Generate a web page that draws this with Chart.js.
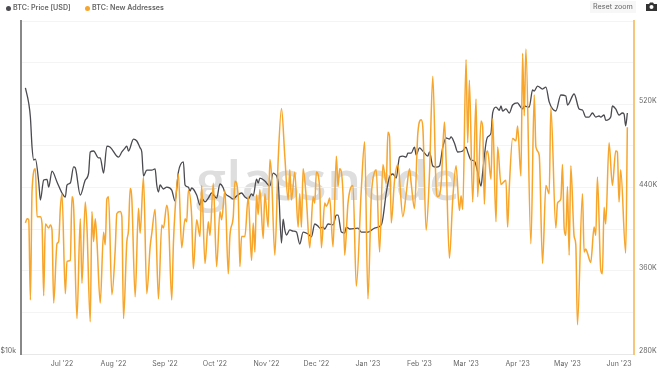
<!DOCTYPE html>
<html>
<head>
<meta charset="utf-8">
<script src="https://cdn.jsdelivr.net/npm/chart.js@4"></script>
<style>
    body { margin: 0; background: #fff; }
    #box { position: relative; width: 660px; height: 372px; overflow: hidden; font-family: Inter, sans-serif; }
    #marca { position: absolute; left: 196px; top: 142px; font: 600 54px "Open Sans", sans-serif; color: #dedede; letter-spacing: 0.4px; }
    canvas { position: absolute; left: 0; top: 0; }
    #legenda { position: absolute; left: 5px; top: 3px; height: 10px; line-height: 10px; font-size: 7.1px; font-weight: 600; color: #666; white-space: nowrap; }
    #legenda span { position: absolute; top: 0; }
    #legenda i { position: absolute; top: 2.5px; width: 5px; height: 5px; border-radius: 50%; }
    #reset { position: absolute; left: 590px; top: 1px; width: 46px; height: 12px; line-height: 12px; background: #f7f7f7; color: #666; font-size: 7.2px; text-align: center; }
    #camera { position: absolute; left: 646px; top: 2px; }
</style>
</head>
<body>
<div id="box">
    <div id="marca">glassnode</div>
    <canvas id="grafico" width="660" height="372"></canvas>
    <div id="legenda"></div>
    <div id="reset">Reset zoom</div>
    <svg id="camera" width="11" height="9" viewBox="0 0 11 9">
        <path d="M0 2 H3 L4 0.5 H7 L8 2 H11 V9 H0 Z" fill="#333"/>
        <circle cx="5.5" cy="5" r="2" fill="#fff"/>
    </svg>
</div>
<script>
// =======================
// DADOS (dias contados a partir de 1 Jul 2022)
// =======================

const mesDias = [0, 31, 62, 92, 123, 153, 184, 215, 243, 274, 304, 335];
const mesLabels = ["Jul '22", "Aug '22", "Sep '22", "Oct '22", "Nov '22", "Dec '22",
    "Jan '23", "Feb '23", "Mar '23", "Apr '23", "May '23", "Jun '23"];

const precoDias = [-22, -20, -19, -18, -17, -16, -14, -13, -11, -9, -8, -6, -3, 0, 2, 3, 5, 7, 8, 11,
    14, 16, 17, 19, 22, 23, 25, 27, 29, 34, 36, 38, 39, 40, 43, 45, 47, 48, 49, 51,
    54, 56, 57, 58, 59, 61, 63, 66, 68, 70, 73, 74, 76, 77, 78, 81, 83, 84, 86, 88,
    90, 93, 95, 97, 98, 101, 103, 105, 108, 110, 112, 114, 115, 117, 118, 119, 122, 125, 127, 128,
    130, 132, 133, 134, 135, 137, 139, 141, 143, 145, 148, 150, 152, 154, 155, 157, 158, 160, 163, 165,
    166, 168, 170, 171, 173, 178, 180, 184, 188, 192, 193, 195, 197, 199, 201, 203, 205, 207, 208, 210,
    212, 213, 215, 217, 220, 221, 223, 225, 227, 229, 231, 233, 234, 236, 238, 241, 243, 244, 246, 248,
    250, 252, 253, 255, 256, 258, 259, 261, 263, 264, 265, 267, 269, 271, 274, 275, 277, 278, 281, 283,
    284, 286, 289, 291, 293, 295, 297, 300, 303, 304, 308, 311, 313, 315, 317, 319, 321, 323, 324, 326,
    327, 330, 331, 333, 335, 337, 338, 339, 340];
const precoUSD = [31170, 29200, 27500, 24200, 22910, 23000, 20860, 19310, 21030, 21100, 20400, 21840, 20860, 19900, 19560, 20590, 20760, 22240, 22150, 19730,
    21030, 21670, 23710, 23810, 23120, 23120, 21670, 24310, 24200, 23200, 23710, 24130, 24310, 23810, 25060, 24850, 24130, 23710, 21400, 21950,
    21950, 22060, 20590, 19980, 20590, 20240, 20400, 20150, 19220, 21760, 22720, 20590, 20400, 20070, 20330, 19730, 18900, 19470, 19150, 19470,
    19900, 19470, 20680, 20330, 19900, 19560, 19390, 19650, 19900, 19560, 19390, 19820, 19650, 21120, 20760, 21210, 20940, 20500, 21670, 21580,
    20860, 16070, 17800, 16990, 16630, 16990, 16910, 16840, 16000, 16840, 16700, 16490, 17430, 17270, 17130, 17200, 17060, 17430, 17360, 18110,
    18110, 16840, 16770, 17200, 17060, 17130, 16840, 16840, 17130, 17360, 17880, 19900, 21310, 21580, 21210, 23200, 23300, 23200, 23600, 23600,
    24200, 23410, 24130, 23810, 23290, 23710, 22330, 22230, 22330, 24200, 25170, 25060, 25290, 24640, 23710, 23810, 24200, 23710, 22910, 22810,
    21760, 20500, 21760, 24640, 25290, 25700, 28010, 28730, 28340, 28860, 28250, 28500, 28010, 28980, 29240, 28980, 28500, 28860, 28730, 30900,
    30770, 31430, 31030, 31290, 29370, 28500, 28250, 30250, 30120, 28980, 30380, 28500, 28370, 27530, 27530, 28010, 27530, 27650, 27530, 27770,
    27130, 27530, 28860, 28500, 27770, 28010, 27890, 26510, 28010];

const enderecoDias = [-22, -21, -20, -19, -18, -16, -15, -13, -12, -11, -10, -8, -7, -6, -5, -3, -2, -1, 0, 2,
    3, 5, 6, 7, 9, 11, 12, 14, 15, 17, 18, 19, 20, 21, 23, 25, 26, 27, 28, 30,
    32, 33, 35, 36, 37, 39, 40, 41, 42, 44, 46, 47, 49, 51, 53, 54, 56, 58, 60, 61,
    63, 64, 66, 67, 68, 70, 72, 74, 75, 76, 78, 79, 81, 83, 84, 86, 88, 89, 91, 93,
    95, 96, 98, 100, 101, 103, 104, 106, 107, 108, 110, 112, 114, 115, 116, 117, 118, 119, 121, 122,
    124, 125, 126, 128, 130, 132, 134, 136, 137, 138, 140, 142, 143, 144, 145, 147, 149, 151, 152, 153,
    155, 156, 158, 159, 160, 161, 163, 165, 166, 167, 169, 170, 172, 175, 177, 180, 182, 184, 186, 188,
    189, 191, 193, 195, 196, 197, 198, 200, 202, 205, 207, 209, 210, 212, 214, 216, 217, 219, 221, 223,
    225, 226, 228, 230, 231, 233, 235, 237, 239, 240, 241, 243, 244, 245, 247, 249, 250, 252, 253, 254,
    255, 256, 258, 259, 261, 262, 264, 267, 268, 269, 271, 273, 274, 276, 277, 278, 279, 282, 284, 285,
    287, 289, 291, 293, 294, 297, 298, 300, 301, 302, 303, 304, 305, 306, 308, 309, 310, 313, 314, 315,
    316, 318, 320, 321, 322, 324, 325, 326, 327, 329, 331, 333, 334, 335, 336, 339, 340];
const enderecoK = [406, 410, 409, 332, 437, 458, 412, 412, 405, 336, 405, 401, 404, 399, 329, 386, 388, 420, 434, 338,
    369, 370, 431, 421, 314, 410, 348, 426, 402, 311, 417, 388, 410, 389, 329, 397, 385, 429, 431, 337,
    380, 415, 417, 412, 314, 388, 399, 439, 429, 335, 420, 396, 450, 338, 383, 396, 419, 333, 404, 401,
    423, 412, 332, 386, 418, 453, 382, 410, 407, 437, 412, 362, 409, 393, 442, 367, 407, 394, 444, 364,
    417, 409, 437, 357, 394, 412, 446, 431, 364, 393, 393, 431, 370, 406, 378, 433, 414, 438, 391, 434,
    402, 467, 452, 375, 466, 516, 470, 428, 457, 428, 455, 402, 434, 402, 458, 428, 382, 431, 425, 455,
    438, 382, 425, 422, 425, 430, 383, 470, 441, 458, 434, 375, 425, 442, 345, 438, 484, 333, 431, 455,
    457, 378, 462, 444, 493, 489, 406, 447, 462, 412, 434, 458, 444, 420, 492, 505, 498, 399, 453, 547,
    440, 431, 443, 503, 466, 372, 429, 461, 418, 432, 419, 563, 483, 543, 426, 525, 431, 504, 498, 424,
    471, 475, 448, 506, 407, 479, 443, 447, 402, 440, 487, 485, 499, 451, 569, 509, 573, 386, 529, 479,
    471, 367, 442, 434, 517, 401, 425, 429, 462, 401, 394, 441, 375, 461, 393, 385, 308, 434, 378, 381,
    377, 368, 402, 394, 450, 361, 357, 421, 405, 483, 442, 475, 474, 426, 457, 377, 498];

// =======================
// GRÁFICO
// =======================

const ctx =
    document.getElementById("grafico");

const fonte = { family: "Inter", size: 7 };

const grafico = new Chart(ctx, {
    type: "line",

    data: {
        datasets: [{
            label: "BTC: Price [USD]",
            data: precoDias.map((d, i) => ({ x: d, y: precoUSD[i] })),
            yAxisID: "y",
            borderColor: "#4a4a4f",
            borderWidth: 1.3,
            pointRadius: 0,
            cubicInterpolationMode: "monotone",
            order: 2
        }, {
            label: "BTC: New Addresses",
            data: enderecoDias.map((d, i) => ({ x: d, y: enderecoK[i] })),
            yAxisID: "y1",
            borderColor: "#f7a52b",
            borderWidth: 1.5,
            pointRadius: 0,
            cubicInterpolationMode: "monotone",
            order: 1
        }]
    },

    options: {
        responsive: false,
        animation: false,
        layout: { padding: { top: 21 } },

        plugins: {
            tooltip: { enabled: false },
            legend: { display: false }
        },

        scales: {
            x: {
                type: "linear",
                min: -24.65,
                max: 344,
                afterFit(a) { a.height = 18; },
                afterBuildTicks(a) { a.ticks = mesDias.map(v => ({ value: v })); },
                grid: { display: false, drawTicks: false },
                border: { color: "#e8e8e8", width: 1 },
                ticks: {
                    autoSkip: false,
                    maxRotation: 0,
                    padding: 6,
                    color: "#666",
                    font: fonte,
                    callback: v => mesLabels[mesDias.indexOf(v)]
                }
            },
            y: {
                type: "logarithmic",
                position: "left",
                min: 10000,
                max: 41500,
                afterFit(a) { a.width = 21; },
                afterBuildTicks(a) { a.ticks = [{ value: 10000 }]; },
                grid: { display: false, drawTicks: false },
                border: { color: "#888", width: 2 },
                ticks: {
                    padding: 5,
                    labelOffset: -3,
                    color: "#666",
                    font: fonte,
                    callback: v => "$" + v / 1000 + "k"
                }
            },
            y1: {
                type: "linear",
                position: "right",
                min: 280,
                max: 600,
                afterFit(a) { a.width = 26; },
                grid: { color: "#f4f4f4", drawTicks: false },
                border: { color: "#f7c67a", width: 2 },
                ticks: {
                    stepSize: 40,
                    autoSkip: false,
                    padding: 5,
                    labelOffset: -3,
                    color: "#666",
                    font: fonte,
                    callback: v => (v < 600 && (v - 280) % 80 === 0) ? v + "K" : ""
                }
            }
        }
    }
});

// =======================
// LEGENDA
// =======================

const legendaX = [8, 87];

grafico.data.datasets.forEach((ds, i) => {
    const ponto = document.createElement("i");
    ponto.style.left = (legendaX[i] - 7.5) + "px";
    ponto.style.background = ds.borderColor;

    const texto = document.createElement("span");
    texto.style.left = legendaX[i] + "px";
    texto.textContent = ds.label;

    document.getElementById("legenda").append(ponto, texto);
});
</script>
</body>
</html>
